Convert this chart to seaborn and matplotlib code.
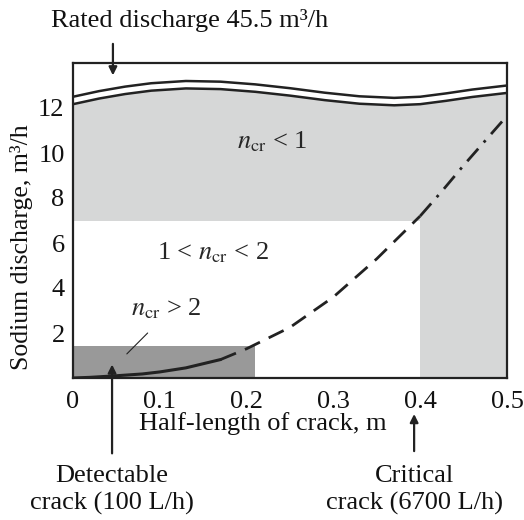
import numpy as np
import pandas as pd
import matplotlib
matplotlib.use("Agg")
import matplotlib.pyplot as plt
import seaborn as sns

# ---- data ----
wave_x = [0.0, 0.03, 0.06, 0.09, 0.13, 0.17, 0.21, 0.25, 0.29, 0.33, 0.37, 0.40, 0.43, 0.46, 0.50]
wave_upper = [12.5, 12.75, 12.95, 13.1, 13.2, 13.17, 13.05, 12.88, 12.68, 12.52, 12.45, 12.5, 12.65, 12.82, 13.0]
wave_gap = 0.33

solid_x = [0.0, 0.02, 0.05, 0.08, 0.10, 0.13, 0.17]
solid_y = [0.0, 0.03, 0.10, 0.18, 0.27, 0.45, 0.82]
dash_x = [0.17, 0.20, 0.25, 0.30, 0.35, 0.40]
dash_y = [0.82, 1.30, 2.25, 3.60, 5.30, 7.20]
dashdot_x = [0.40, 0.425, 0.45, 0.475, 0.50]
dashdot_y = [7.20, 8.30, 9.45, 10.55, 11.65]

level_one = 7.0        # boundary n_cr = 1
critical_x = 0.40      # critical crack half-length
detect_x = 0.21        # dark box width
detect_y = 1.4         # dark box height

x_ticks = [0, 0.1, 0.2, 0.3, 0.4, 0.5]
x_tick_labels = ["0", "0.1", "0.2", "0.3", "0.4", "0.5"]
y_ticks = [2, 4, 6, 8, 10, 12]

sns.set_theme(style="white")
plt.rcParams["font.family"] = ["Liberation Serif", "DejaVu Serif"]
plt.rcParams["mathtext.fontset"] = "stix"

light = "#d6d7d7"
dark = "#999999"
ink = "#222222"
txt = "#111111"
FS = 19

fig = plt.figure(figsize=(5.24, 5.2), dpi=100)
ax = fig.add_axes([73 / 524, 1 - 378 / 520, 434 / 524, 315 / 520])

wx = np.array(wave_x)
wu = np.array(wave_upper)
wl = wu - wave_gap

# shaded regions
ax.fill_between(wx, level_one, wl, color=light, lw=0, zorder=0)
ax.fill_between([critical_x, 0.5], 0, level_one, color=light, lw=0, zorder=0)
ax.fill_between([0, detect_x], 0, detect_y, color=dark, lw=0, zorder=0)

# wavy rated-discharge lines
df_w = pd.DataFrame({"x": np.concatenate([wx, wx]),
                     "y": np.concatenate([wu, wl]),
                     "s": ["u"] * len(wx) + ["l"] * len(wx)})
sns.lineplot(data=df_w, x="x", y="y", units="s", estimator=None, color=ink,
             lw=1.8, ax=ax, zorder=3)

# crack discharge curve
sns.lineplot(x=solid_x, y=solid_y, color=ink, lw=2.2, ax=ax, zorder=3)
sns.lineplot(x=dash_x, y=dash_y, color=ink, lw=2.0, ax=ax, zorder=3,
             linestyle=(0, (6, 3.5)))
sns.lineplot(x=dashdot_x, y=dashdot_y, color=ink, lw=2.0, ax=ax, zorder=3,
             linestyle=(0, (6, 3, 1, 3)))

ax.set_xlim(0, 0.5)
ax.set_ylim(0, 14)
ax.set_xticks(x_ticks)
ax.set_xticklabels(x_tick_labels)
ax.set_yticks(y_ticks)
ax.tick_params(direction="in", length=6, width=1.2, colors=ink, labelsize=FS,
               pad=6, labelcolor=txt)
ax.tick_params(axis="x", pad=9)
for s in ax.spines.values():
    s.set_color(ink)
    s.set_linewidth(1.6)

ax.set_xlabel("Half-length of crack, m", fontsize=FS, color=txt, labelpad=0)
ax.xaxis.label.set_x(0.438)
ax.set_ylabel("Sodium discharge, m³/h", fontsize=18.5, color=txt, labelpad=4)
ax.yaxis.label.set_y(0.416)

# region labels
ax.text(0.23, 10.5, r"$n_{\mathrm{cr}}$ < 1", fontsize=FS, ha="center", va="center")
ax.text(0.161, 5.55, r"1 < $n_{\mathrm{cr}}$ < 2", fontsize=FS, ha="center", va="center")
ax.text(0.108, 3.1, r"$n_{\mathrm{cr}}$ > 2", fontsize=FS, ha="center", va="center")
ax.plot([0.086, 0.062], [2.0, 1.07], color=ink, lw=0.8)

arrow = dict(arrowstyle="-|>", color=ink, lw=1.6, mutation_scale=12,
             shrinkA=0, shrinkB=0)
ax.annotate("", xy=(0.046, 13.45), xytext=(0.046, 14.85), arrowprops=arrow,
            annotation_clip=False)
ax.annotate("", xy=(0.045, 0.6), xytext=(0.045, -3.35), arrowprops=arrow,
            annotation_clip=False)
ax.annotate("", xy=(0.393, -1.6), xytext=(0.393, -3.25), arrowprops=arrow,
            annotation_clip=False)

fig.text(190 / 524, 1 - 20 / 520, "Rated discharge 45.5 m³/h", fontsize=FS,
         ha="center", va="center", color=txt)
fig.text(112 / 524, 1 - 490 / 520, "Detectable\ncrack (100 L/h)", fontsize=FS,
         ha="center", va="center", linespacing=1.25, color=txt)
fig.text(415 / 524, 1 - 490 / 520, "Critical\ncrack (6700 L/h)", fontsize=FS,
         ha="center", va="center", linespacing=1.25, color=txt)

fig.savefig("out.png", dpi=100)
